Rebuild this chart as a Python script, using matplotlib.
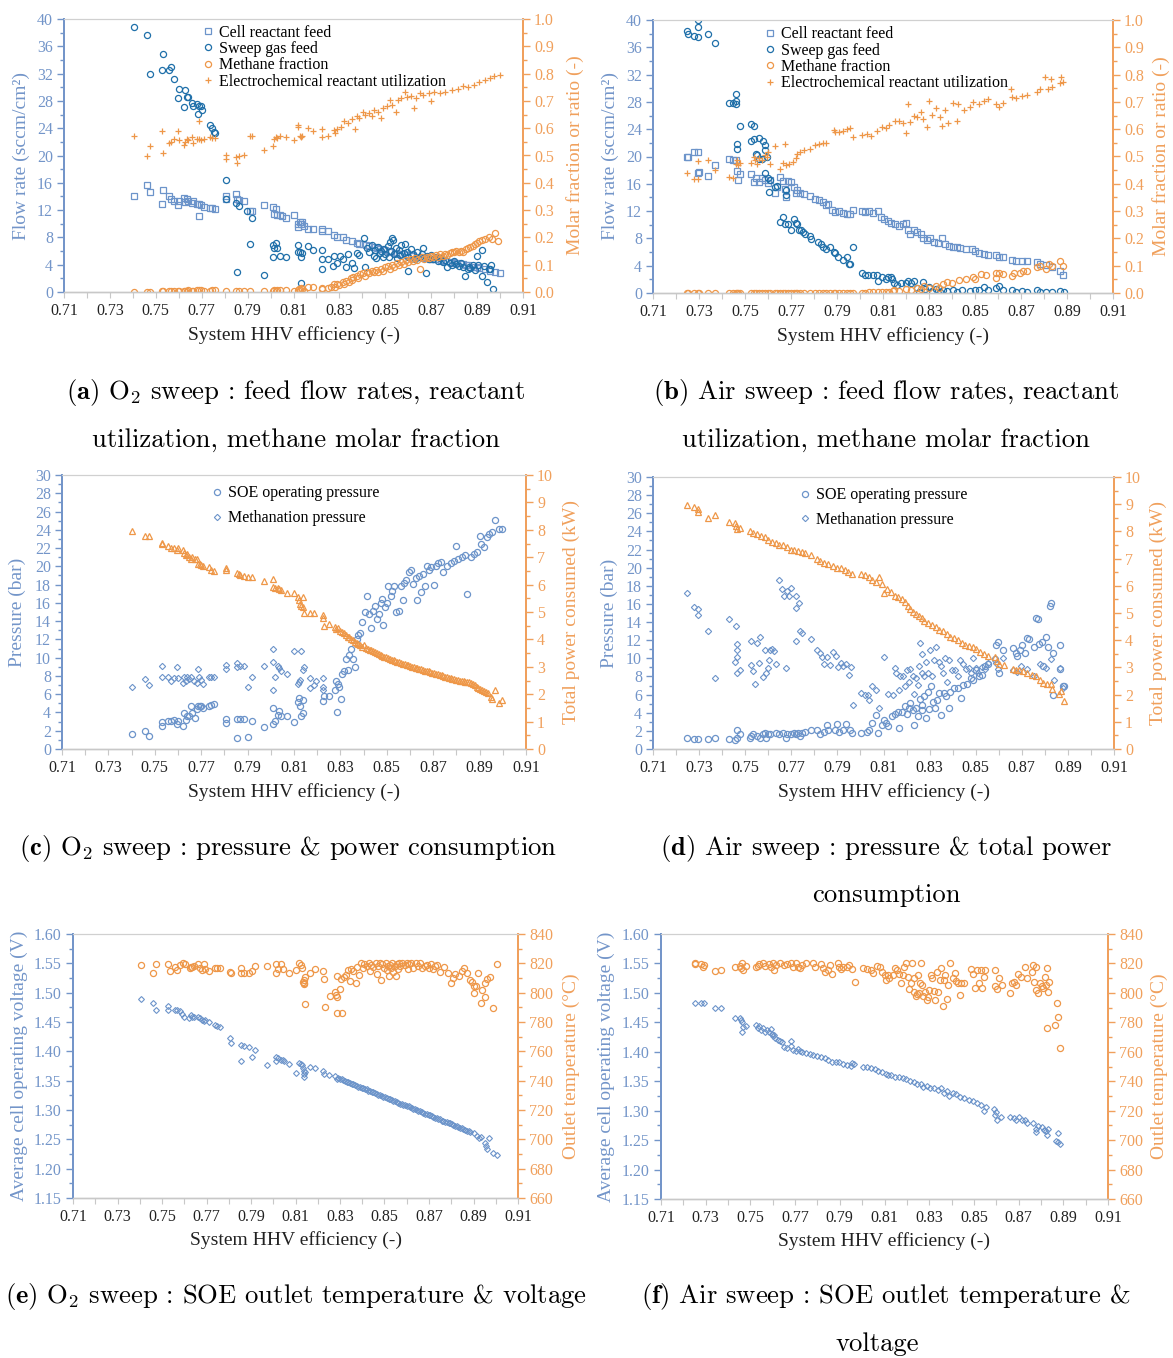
import numpy as np
import matplotlib
matplotlib.use("Agg")
import matplotlib.pyplot as plt
from matplotlib.ticker import MultipleLocator, FormatStrFormatter

plt.rcParams["font.family"] = ["Liberation Serif", "DejaVu Serif"]
plt.rcParams["mathtext.fontset"] = "cm"

BLUE_AX = "#7395C9"
BLUE_LT = "#6C94CA"
BLUE_DK = "#1F6FA9"
ORANGE = "#EE9748"
ORANGE_AX = "#F0A05C"
GRAY = "#C8C8C8"

XTICKS = [0.71, 0.73, 0.75, 0.77, 0.79, 0.81, 0.83, 0.85, 0.87, 0.89, 0.91]

# ---------------- (a) O2 sweep : flow rates / utilization / methane ----------------
a_sweep = np.array([
    (0.7406, 38.9), (0.7462, 37.7), (0.7475, 32.0), (0.7528, 32.6), (0.7533, 34.9), (0.7559, 32.5),
    (0.7568, 33.0), (0.7578, 31.2), (0.7596, 28.4), (0.7600, 29.7), (0.7623, 27.1), (0.7627, 29.6),
    (0.7635, 28.6), (0.7642, 28.6), (0.7658, 27.7), (0.7663, 27.2), (0.7679, 27.5), (0.7682, 26.1),
    (0.7687, 27.2), (0.7695, 27.3), (0.7703, 26.7), (0.7736, 24.4), (0.7744, 24.0), (0.7752, 23.4),
    (0.7756, 23.3), (0.7806, 16.4), (0.7806, 13.6), (0.7851, 13.0), (0.7864, 12.6), (0.7852, 3.0),
    (0.7896, 11.8), (0.7910, 7.0), (0.7917, 10.9), (0.7970, 2.5), (0.8010, 6.9), (0.8013, 6.4),
    (0.8010, 5.2), (0.8024, 7.2), (0.8030, 6.4), (0.8040, 5.3), (0.8067, 5.2), (0.8118, 6.9),
    (0.8121, 5.9), (0.8130, 5.9), (0.8134, 5.2), (0.8139, 5.7), (0.8131, 1.3), (0.8165, 6.7),
    (0.8186, 6.1), (0.8223, 6.1), (0.8223, 4.8), (0.8223, 3.3), (0.8250, 4.8), (0.8272, 3.8),
    (0.8275, 5.3), (0.8290, 4.3), (0.8302, 5.3), (0.8315, 4.9), (0.8330, 3.7), (0.8339, 5.6),
    (0.8355, 4.2), (0.8363, 3.5), (0.8376, 5.7), (0.8387, 5.4), (0.8408, 7.9), (0.8410, 3.7),
    (0.8420, 6.5), (0.8430, 5.8), (0.8440, 6.9), (0.8450, 5.3), (0.8455, 6.2), (0.8460, 5.0),
    (0.8470, 6.6), (0.8475, 5.7), (0.8480, 6.0), (0.8490, 5.1), (0.8495, 6.3), (0.8500, 5.5),
    (0.8510, 6.8), (0.8515, 5.2), (0.8520, 7.3), (0.8525, 6.0), (0.8530, 7.9), (0.8533, 7.6),
    (0.8540, 5.6), (0.8545, 6.4), (0.8550, 5.0), (0.8560, 6.2), (0.8565, 5.4), (0.8570, 6.9),
    (0.8580, 5.7), (0.8588, 7.1), (0.8595, 5.9), (0.8600, 5.2), (0.8601, 3.1), (0.8610, 6.3),
    (0.8620, 5.6), (0.8630, 4.9), (0.8640, 5.8), (0.8650, 5.2), (0.8660, 5.5), (0.8666, 6.4),
    (0.8676, 2.8), (0.8680, 5.3), (0.8690, 4.9), (0.8700, 5.4), (0.8710, 4.8), (0.8720, 5.2),
    (0.8730, 4.6), (0.8740, 5.0), (0.8750, 4.4), (0.8760, 4.7), (0.8770, 3.7), (0.8780, 4.3),
    (0.8790, 4.0), (0.8800, 4.5), (0.8810, 4.1), (0.8820, 3.8), (0.8830, 4.2), (0.8840, 3.6),
    (0.8848, 2.4), (0.8860, 3.3), (0.8865, 3.6), (0.8870, 3.5), (0.8880, 4.0), (0.8890, 3.2),
    (0.8900, 5.3), (0.8905, 3.9), (0.8920, 2.4), (0.8922, 6.2), (0.8930, 3.8), (0.8941, 1.4),
    (0.8950, 3.4), (0.8955, 3.3), (0.8960, 4.0), (0.8968, 0.4)])

a_cell = np.array([
    (0.7406, 14.1), (0.7462, 15.7), (0.7475, 14.7), (0.7528, 12.9), (0.7533, 15.0), (0.7559, 14.0),
    (0.7568, 13.6), (0.7580, 13.4), (0.7596, 12.8), (0.7600, 13.4), (0.7623, 13.7), (0.7627, 13.2),
    (0.7635, 13.6), (0.7642, 13.3), (0.7658, 13.0), (0.7663, 13.3), (0.7679, 12.9), (0.7687, 11.1),
    (0.7687, 12.9), (0.7695, 12.7), (0.7708, 12.5), (0.7736, 12.3), (0.7744, 12.3), (0.7756, 12.2),
    (0.7806, 14.1), (0.7806, 13.6), (0.7851, 14.3), (0.7852, 13.6), (0.7864, 13.5), (0.7885, 13.4),
    (0.7910, 11.8), (0.7917, 11.8), (0.7970, 12.7), (0.8010, 12.5), (0.8013, 11.5), (0.8024, 12.1),
    (0.8030, 11.3), (0.8040, 11.3), (0.8050, 11.1), (0.8067, 10.9), (0.8101, 11.3), (0.8118, 10.0),
    (0.8120, 9.5), (0.8130, 10.2), (0.8134, 10.0), (0.8139, 10.3), (0.8145, 9.7), (0.8165, 9.2),
    (0.8186, 9.3), (0.8223, 9.2), (0.8226, 8.9), (0.8250, 8.9), (0.8275, 8.4), (0.8290, 8.1),
    (0.8315, 8.0), (0.8330, 7.6), (0.8355, 7.5), (0.8376, 7.2), (0.8385, 7.1), (0.8403, 7.0),
    (0.8415, 6.9), (0.8427, 6.7), (0.8451, 6.6), (0.8465, 6.5), (0.8476, 6.3), (0.8500, 6.1),
    (0.8515, 6.0), (0.8524, 5.9), (0.8548, 5.7), (0.8560, 5.6), (0.8572, 5.5), (0.8596, 5.4),
    (0.8610, 5.3), (0.8620, 5.3), (0.8644, 5.1), (0.8660, 5.1), (0.8669, 5.0), (0.8693, 4.9),
    (0.8705, 4.9), (0.8717, 4.8), (0.8741, 4.7), (0.8750, 4.6), (0.8765, 4.5), (0.8789, 4.4),
    (0.8800, 4.3), (0.8813, 4.2), (0.8837, 4.1), (0.8850, 4.0), (0.8861, 3.9), (0.8886, 3.7),
    (0.8898, 3.6), (0.8910, 3.5), (0.8934, 3.3), (0.8958, 3.1), (0.8979, 3.0), (0.8998, 2.8)])

a_methane = np.array([
    (0.7406, 0.000), (0.7462, 0.000), (0.7475, 0.000), (0.7528, 0.002), (0.7533, 0.003), (0.7559, 0.002),
    (0.7568, 0.003), (0.7580, 0.003), (0.7596, 0.002), (0.7600, 0.004), (0.7623, 0.004), (0.7627, 0.005),
    (0.7635, 0.004), (0.7642, 0.006), (0.7658, 0.005), (0.7663, 0.005), (0.7679, 0.008), (0.7687, 0.006),
    (0.7695, 0.007), (0.7708, 0.005), (0.7736, 0.005), (0.7744, 0.006), (0.7756, 0.007), (0.7806, 0.002),
    (0.7851, 0.002), (0.7864, 0.002), (0.7885, 0.003), (0.7910, 0.003), (0.7970, 0.003), (0.8010, 0.004),
    (0.8013, 0.006), (0.8024, 0.005), (0.8030, 0.007), (0.8040, 0.006), (0.8067, 0.006), (0.8101, 0.004),
    (0.8118, 0.008), (0.8125, 0.012), (0.8130, 0.006), (0.8134, 0.015), (0.8139, 0.010), (0.8145, 0.004),
    (0.8165, 0.020), (0.8186, 0.020), (0.8223, 0.016), (0.8226, 0.010), (0.8250, 0.014), (0.8265, 0.020),
    (0.8275, 0.028), (0.8280, 0.018), (0.8290, 0.030), (0.8300, 0.024), (0.8315, 0.036), (0.8320, 0.030),
    (0.8330, 0.042), (0.8340, 0.038), (0.8349, 0.050), (0.8355, 0.045), (0.8360, 0.055), (0.8376, 0.060),
    (0.8380, 0.052), (0.8390, 0.065), (0.8403, 0.070), (0.8410, 0.060), (0.8420, 0.075), (0.8430, 0.068),
    (0.8440, 0.078), (0.8450, 0.072), (0.8460, 0.080), (0.8470, 0.075), (0.8480, 0.085), (0.8490, 0.078),
    (0.8500, 0.090), (0.8510, 0.095), (0.8520, 0.085), (0.8530, 0.100), (0.8540, 0.092), (0.8550, 0.105),
    (0.8560, 0.098), (0.8570, 0.110), (0.8580, 0.102), (0.8590, 0.118), (0.8600, 0.110), (0.8610, 0.122),
    (0.8620, 0.115), (0.8630, 0.125), (0.8640, 0.118), (0.8650, 0.085), (0.8660, 0.128), (0.8670, 0.122),
    (0.8680, 0.130), (0.8690, 0.125), (0.8700, 0.132), (0.8710, 0.128), (0.8720, 0.135), (0.8730, 0.130),
    (0.8740, 0.138), (0.8750, 0.132), (0.8760, 0.140), (0.8770, 0.136), (0.8780, 0.142), (0.8790, 0.148),
    (0.8800, 0.145), (0.8810, 0.150), (0.8820, 0.146), (0.8830, 0.152), (0.8840, 0.148), (0.8850, 0.156),
    (0.8860, 0.160), (0.8870, 0.165), (0.8880, 0.170), (0.8890, 0.175), (0.8900, 0.180), (0.8910, 0.185),
    (0.8920, 0.190), (0.8935, 0.195), (0.8950, 0.200), (0.8965, 0.195), (0.8979, 0.215), (0.8990, 0.185)])

a_util = np.array([
    (0.7406, 0.570), (0.7462, 0.500), (0.7475, 0.533), (0.7528, 0.590), (0.7533, 0.509), (0.7559, 0.545),
    (0.7568, 0.548), (0.7580, 0.560), (0.7596, 0.588), (0.7600, 0.557), (0.7623, 0.539), (0.7627, 0.551),
    (0.7635, 0.561), (0.7642, 0.557), (0.7658, 0.567), (0.7663, 0.545), (0.7679, 0.560), (0.7687, 0.625),
    (0.7687, 0.560), (0.7695, 0.557), (0.7708, 0.560), (0.7736, 0.567), (0.7744, 0.564), (0.7756, 0.564),
    (0.7806, 0.502), (0.7806, 0.487), (0.7851, 0.496), (0.7852, 0.472), (0.7864, 0.499), (0.7885, 0.502),
    (0.7910, 0.570), (0.7917, 0.572), (0.7970, 0.520), (0.8010, 0.535), (0.8013, 0.560), (0.8024, 0.567),
    (0.8030, 0.564), (0.8040, 0.570), (0.8067, 0.567), (0.8101, 0.555), (0.8118, 0.606), (0.8120, 0.612),
    (0.8130, 0.570), (0.8134, 0.567), (0.8139, 0.572), (0.8165, 0.600), (0.8186, 0.590), (0.8223, 0.596),
    (0.8226, 0.567), (0.8250, 0.572), (0.8275, 0.594), (0.8280, 0.584), (0.8290, 0.596), (0.8305, 0.606),
    (0.8320, 0.625), (0.8339, 0.619), (0.8355, 0.633), (0.8366, 0.596), (0.8376, 0.643), (0.8387, 0.637),
    (0.8403, 0.661), (0.8410, 0.649), (0.8427, 0.655), (0.8440, 0.643), (0.8451, 0.667), (0.8467, 0.661),
    (0.8483, 0.637), (0.8490, 0.673), (0.8507, 0.680), (0.8520, 0.704), (0.8530, 0.686), (0.8546, 0.661),
    (0.8556, 0.704), (0.8570, 0.710), (0.8588, 0.731), (0.8596, 0.716), (0.8610, 0.719), (0.8626, 0.674),
    (0.8633, 0.710), (0.8650, 0.729), (0.8666, 0.722), (0.8690, 0.729), (0.8700, 0.698), (0.8713, 0.731),
    (0.8738, 0.729), (0.8760, 0.731), (0.8790, 0.741), (0.8815, 0.743), (0.8838, 0.756), (0.8860, 0.751),
    (0.8885, 0.759), (0.8910, 0.768), (0.8933, 0.777), (0.8958, 0.784), (0.8974, 0.790), (0.8998, 0.796)])

# ---------------- (b) Air sweep : flow rates / utilization / methane ----------------
b_sweep = np.array([
    (0.7249, 38.4), (0.7254, 38.0), (0.7278, 37.6), (0.7294, 40.0), (0.7294, 39.0), (0.7294, 37.5),
    (0.7340, 38.0), (0.7370, 36.7), (0.7432, 27.9), (0.7448, 27.9), (0.7461, 29.1), (0.7461, 28.1),
    (0.7461, 27.7), (0.7464, 21.8), (0.7464, 21.1), (0.7480, 24.4), (0.7524, 24.8), (0.7537, 24.4),
    (0.7524, 22.2), (0.7537, 22.5), (0.7562, 22.7), (0.7578, 22.2), (0.7589, 21.7), (0.7589, 21.0),
    (0.7549, 20.4), (0.7553, 20.2), (0.7562, 19.6), (0.7573, 19.6), (0.7594, 20.0), (0.7589, 17.6),
    (0.7602, 16.8), (0.7610, 16.5), (0.7605, 14.8), (0.7630, 15.6), (0.7638, 15.7), (0.7678, 15.1),
    (0.7678, 14.3), (0.7651, 10.4), (0.7667, 11.2), (0.7675, 10.1), (0.7686, 10.1), (0.7702, 9.2),
    (0.7715, 10.9), (0.7720, 10.2), (0.7728, 10.1), (0.7734, 9.2), (0.7744, 9.2), (0.7750, 8.9),
    (0.7760, 8.6), (0.7783, 8.3), (0.7788, 7.9), (0.7816, 7.5), (0.7829, 7.2), (0.7837, 6.7),
    (0.7853, 6.5), (0.7869, 6.8), (0.7885, 6.0), (0.7893, 5.8), (0.7906, 5.3), (0.7926, 4.8),
    (0.7942, 5.3), (0.7950, 4.3), (0.7958, 4.2), (0.7968, 6.7), (0.8007, 2.9), (0.8023, 2.7),
    (0.8036, 2.6), (0.8055, 2.6), (0.8072, 2.7), (0.8080, 1.8), (0.8096, 2.3), (0.8112, 2.1),
    (0.8120, 2.3), (0.8133, 2.3), (0.8139, 2.0), (0.8149, 1.4), (0.8161, 1.1), (0.8177, 1.4),
    (0.8198, 1.5), (0.8209, 1.8), (0.8220, 1.5), (0.8234, 1.8), (0.8247, 0.8), (0.8258, 0.1),
    (0.8274, 1.6), (0.8282, 0.6), (0.8298, 0.9), (0.8315, 0.3), (0.8331, 0.6), (0.8347, 0.1),
    (0.8363, 0.5), (0.8379, 0.3), (0.8404, 0.5), (0.8420, 0.2), (0.8444, 0.4), (0.8477, 0.3),
    (0.8501, 0.4), (0.8517, 0.5), (0.8541, 0.9), (0.8558, 0.4), (0.8590, 0.8), (0.8606, 1.0),
    (0.8623, 0.5), (0.8663, 0.4), (0.8679, 0.1), (0.8703, 0.3), (0.8727, 0.1), (0.8768, 0.5),
    (0.8784, 0.1), (0.8808, 0.2), (0.8833, 0.1), (0.8868, 0.3), (0.8889, 0.1)])

b_cell = np.array([
    (0.7249, 20.0), (0.7254, 19.9), (0.7278, 20.7), (0.7294, 20.7), (0.7294, 17.6), (0.7298, 17.7),
    (0.7340, 17.2), (0.7370, 18.8), (0.7432, 19.6), (0.7448, 19.5), (0.7461, 19.5), (0.7464, 17.9),
    (0.7468, 16.6), (0.7480, 17.4), (0.7524, 17.5), (0.7537, 16.3), (0.7549, 16.9), (0.7562, 16.3),
    (0.7573, 16.9), (0.7589, 16.5), (0.7602, 16.1), (0.7610, 16.5), (0.7630, 14.6), (0.7638, 15.6),
    (0.7651, 17.0), (0.7667, 16.4), (0.7675, 15.2), (0.7678, 14.1), (0.7686, 16.4), (0.7702, 16.2),
    (0.7715, 15.5), (0.7720, 14.7), (0.7728, 15.1), (0.7739, 14.7), (0.7756, 14.5), (0.7783, 14.2),
    (0.7804, 13.7), (0.7820, 13.6), (0.7837, 13.3), (0.7853, 12.9), (0.7861, 13.1), (0.7877, 12.1),
    (0.7893, 11.9), (0.7910, 12.0), (0.7926, 11.7), (0.7942, 11.6), (0.7958, 11.6), (0.7968, 12.2),
    (0.8007, 12.0), (0.8023, 11.9), (0.8039, 12.0), (0.8055, 11.7), (0.8080, 12.0), (0.8091, 11.2),
    (0.8104, 10.9), (0.8120, 10.6), (0.8136, 10.3), (0.8153, 10.1), (0.8169, 9.8), (0.8185, 10.1),
    (0.8198, 10.2), (0.8209, 9.2), (0.8217, 8.6), (0.8234, 9.2), (0.8250, 8.9), (0.8266, 8.7),
    (0.8274, 8.1), (0.8290, 7.7), (0.8306, 8.0), (0.8323, 7.5), (0.8339, 7.3), (0.8355, 8.0),
    (0.8371, 7.2), (0.8387, 6.9), (0.8404, 6.8), (0.8420, 6.7), (0.8436, 6.6), (0.8460, 6.5),
    (0.8485, 6.4), (0.8501, 6.2), (0.8517, 5.9), (0.8541, 5.7), (0.8558, 5.6), (0.8590, 5.5),
    (0.8606, 5.3), (0.8623, 5.3), (0.8663, 4.9), (0.8679, 4.7), (0.8703, 4.7), (0.8727, 4.7),
    (0.8768, 4.5), (0.8784, 4.3), (0.8808, 4.1), (0.8833, 3.8), (0.8868, 3.2), (0.8881, 2.7)])

b_methane = np.array([
    (0.7249, 0.000), (0.7254, 0.000), (0.7278, 0.000), (0.7294, 0.000), (0.7298, 0.000), (0.7340, 0.000),
    (0.7370, 0.000), (0.7432, 0.000), (0.7448, 0.000), (0.7461, 0.000), (0.7464, 0.000), (0.7468, 0.000),
    (0.7480, 0.000), (0.7524, 0.000), (0.7537, 0.000), (0.7549, 0.000), (0.7562, 0.000), (0.7573, 0.000),
    (0.7589, 0.000), (0.7602, 0.000), (0.7610, 0.000), (0.7630, 0.000), (0.7638, 0.000), (0.7651, 0.000),
    (0.7667, 0.000), (0.7675, 0.000), (0.7686, 0.000), (0.7702, 0.000), (0.7715, 0.000), (0.7720, 0.000),
    (0.7728, 0.000), (0.7739, 0.000), (0.7756, 0.000), (0.7783, 0.000), (0.7804, 0.000), (0.7820, 0.000),
    (0.7837, 0.000), (0.7853, 0.000), (0.7869, 0.000), (0.7885, 0.000), (0.7893, 0.001), (0.7910, 0.001),
    (0.7926, 0.001), (0.7942, 0.001), (0.7958, 0.001), (0.7968, 0.001), (0.8007, 0.001), (0.8023, 0.001),
    (0.8039, 0.002), (0.8055, 0.002), (0.8080, 0.002), (0.8096, 0.002), (0.8112, 0.003), (0.8128, 0.004),
    (0.8145, 0.006), (0.8150, 0.010), (0.8170, 0.008), (0.8200, 0.013), (0.8220, 0.010), (0.8250, 0.020),
    (0.8265, 0.015), (0.8280, 0.024), (0.8300, 0.018), (0.8330, 0.026), (0.8345, 0.020), (0.8360, 0.032),
    (0.8380, 0.040), (0.8400, 0.035), (0.8430, 0.046), (0.8460, 0.050), (0.8490, 0.059), (0.8500, 0.052),
    (0.8525, 0.070), (0.8550, 0.065), (0.8590, 0.056), (0.8592, 0.072), (0.8606, 0.075), (0.8623, 0.070),
    (0.8660, 0.064), (0.8670, 0.075), (0.8695, 0.075), (0.8710, 0.080), (0.8727, 0.081), (0.8768, 0.095),
    (0.8784, 0.100), (0.8808, 0.087), (0.8820, 0.107), (0.8833, 0.100), (0.8868, 0.117), (0.8881, 0.100)])

b_util = np.array([
    (0.7249, 0.438), (0.7278, 0.419), (0.7294, 0.484), (0.7294, 0.419), (0.7340, 0.487), (0.7370, 0.450),
    (0.7432, 0.425), (0.7448, 0.423), (0.7461, 0.474), (0.7464, 0.489), (0.7470, 0.468), (0.7480, 0.477),
    (0.7524, 0.477), (0.7537, 0.499), (0.7545, 0.489), (0.7553, 0.472), (0.7562, 0.493), (0.7573, 0.489),
    (0.7586, 0.505), (0.7594, 0.499), (0.7602, 0.517), (0.7610, 0.472), (0.7630, 0.538), (0.7651, 0.456),
    (0.7667, 0.477), (0.7675, 0.545), (0.7678, 0.468), (0.7691, 0.474), (0.7707, 0.480), (0.7720, 0.496),
    (0.7728, 0.509), (0.7739, 0.517), (0.7756, 0.523), (0.7783, 0.526), (0.7804, 0.541), (0.7820, 0.545),
    (0.7837, 0.550), (0.7853, 0.550), (0.7885, 0.597), (0.7893, 0.590), (0.7910, 0.590), (0.7926, 0.594),
    (0.7942, 0.599), (0.7958, 0.603), (0.7968, 0.572), (0.8007, 0.578), (0.8031, 0.584), (0.8047, 0.575),
    (0.8072, 0.593), (0.8096, 0.609), (0.8112, 0.603), (0.8128, 0.615), (0.8153, 0.631), (0.8169, 0.631),
    (0.8185, 0.621), (0.8198, 0.587), (0.8209, 0.692), (0.8217, 0.627), (0.8234, 0.648), (0.8250, 0.645),
    (0.8266, 0.664), (0.8274, 0.639), (0.8290, 0.609), (0.8298, 0.704), (0.8315, 0.652), (0.8331, 0.676),
    (0.8347, 0.645), (0.8355, 0.611), (0.8371, 0.670), (0.8382, 0.623), (0.8404, 0.697), (0.8420, 0.631),
    (0.8428, 0.694), (0.8452, 0.672), (0.8477, 0.680), (0.8493, 0.700), (0.8517, 0.694), (0.8541, 0.704),
    (0.8558, 0.709), (0.8590, 0.692), (0.8606, 0.682), (0.8623, 0.697), (0.8655, 0.746), (0.8663, 0.719),
    (0.8679, 0.716), (0.8703, 0.721), (0.8727, 0.725), (0.8768, 0.737), (0.8784, 0.749), (0.8803, 0.792),
    (0.8816, 0.746), (0.8829, 0.785), (0.8835, 0.756), (0.8868, 0.770), (0.8873, 0.792), (0.8884, 0.774)])

# ---------------- (c) O2 sweep : pressures / power ----------------
c_soe = np.array([
    (0.7403, 1.6), (0.7457, 2.0), (0.7475, 1.4), (0.7529, 2.5), (0.7533, 3.0), (0.7558, 3.1),
    (0.7569, 3.1), (0.7582, 3.2), (0.7594, 2.7), (0.7601, 3.1), (0.7621, 2.5), (0.7625, 3.9),
    (0.7634, 3.2), (0.7639, 3.6), (0.7649, 3.6), (0.7658, 4.7), (0.7661, 3.9), (0.7674, 3.4),
    (0.7681, 4.4), (0.7685, 4.7), (0.7693, 4.7), (0.7701, 4.7), (0.7709, 4.5), (0.7733, 4.7),
    (0.7744, 4.8), (0.7757, 4.9), (0.7808, 3.3), (0.7808, 2.8), (0.7853, 3.3), (0.7853, 1.2),
    (0.7869, 3.3), (0.7885, 3.3), (0.7901, 1.3), (0.7920, 3.1), (0.7970, 2.4), (0.8009, 2.7),
    (0.8009, 4.5), (0.8016, 3.1), (0.8029, 3.7), (0.8037, 4.2), (0.8045, 3.6), (0.8068, 3.6),
    (0.8100, 3.0), (0.8116, 5.1), (0.8121, 5.6), (0.8124, 4.7), (0.8132, 3.6), (0.8137, 3.9),
    (0.8140, 5.4), (0.8223, 5.3), (0.8228, 5.8), (0.8252, 5.8), (0.8276, 6.5), (0.8283, 7.4),
    (0.8287, 4.1), (0.8291, 7.1), (0.8296, 6.8), (0.8302, 5.5), (0.8307, 8.2), (0.8315, 8.5),
    (0.8323, 9.8), (0.8331, 8.7), (0.8338, 10.3), (0.8346, 10.9), (0.8354, 9.9), (0.8365, 9.0),
    (0.8370, 12.0), (0.8378, 12.5), (0.8386, 12.7), (0.8394, 13.9), (0.8406, 15.0), (0.8413, 16.8),
    (0.8425, 14.8), (0.8433, 13.2), (0.8441, 15.1), (0.8449, 15.7), (0.8457, 14.2), (0.8465, 14.8),
    (0.8473, 16.0), (0.8481, 16.4), (0.8485, 13.6), (0.8492, 15.6), (0.8501, 16.0), (0.8507, 17.9),
    (0.8517, 16.8), (0.8523, 17.3), (0.8533, 17.8), (0.8539, 15.0), (0.8552, 15.1), (0.8560, 17.9),
    (0.8568, 16.3), (0.8576, 18.2), (0.8584, 18.5), (0.8596, 19.4), (0.8603, 19.6), (0.8612, 18.1),
    (0.8624, 18.7), (0.8632, 16.3), (0.8640, 18.9), (0.8648, 17.2), (0.8656, 19.2), (0.8664, 17.9),
    (0.8672, 20.0), (0.8680, 19.6), (0.8692, 19.9), (0.8703, 18.0), (0.8711, 20.0), (0.8719, 20.4),
    (0.8735, 20.5), (0.8743, 19.4), (0.8759, 20.0), (0.8775, 20.4), (0.8791, 20.6), (0.8799, 22.2),
    (0.8807, 20.8), (0.8823, 21.0), (0.8839, 21.2), (0.8847, 17.0), (0.8863, 21.0), (0.8874, 21.3),
    (0.8887, 21.6), (0.8900, 23.3), (0.8906, 22.4), (0.8919, 22.1), (0.8931, 23.2), (0.8942, 23.5),
    (0.8954, 23.8), (0.8966, 25.1), (0.8982, 24.1), (0.8998, 24.1)])

c_meth = np.array([
    (0.7403, 6.8), (0.7457, 7.7), (0.7475, 7.0), (0.7529, 9.1), (0.7533, 7.9), (0.7558, 7.9),
    (0.7569, 7.4), (0.7582, 7.8), (0.7594, 9.0), (0.7601, 7.8), (0.7621, 7.2), (0.7625, 7.9),
    (0.7634, 7.4), (0.7639, 7.9), (0.7649, 7.7), (0.7658, 7.9), (0.7670, 7.5), (0.7681, 7.2),
    (0.7685, 8.8), (0.7690, 7.9), (0.7701, 7.6), (0.7709, 7.1), (0.7733, 7.9), (0.7744, 7.9),
    (0.7757, 7.9), (0.7808, 8.8), (0.7808, 9.2), (0.7853, 9.4), (0.7853, 9.0), (0.7869, 9.1),
    (0.7885, 9.1), (0.7901, 6.8), (0.7920, 7.9), (0.7970, 9.1), (0.8009, 10.9), (0.8009, 9.5),
    (0.8009, 6.5), (0.8020, 7.9), (0.8029, 9.1), (0.8037, 8.9), (0.8045, 8.5), (0.8068, 8.2),
    (0.8100, 10.7), (0.8116, 7.1), (0.8121, 7.3), (0.8127, 7.6), (0.8132, 10.7), (0.8137, 8.7),
    (0.8143, 9.0), (0.8168, 6.7), (0.8168, 7.8), (0.8187, 7.0), (0.8195, 7.4), (0.8223, 7.8),
    (0.8223, 6.8), (0.8223, 6.5)])

c_power = np.array([
    (0.7403, 7.96), (0.7457, 7.77), (0.7475, 7.77), (0.7529, 7.52), (0.7533, 7.48), (0.7558, 7.40),
    (0.7569, 7.35), (0.7582, 7.32), (0.7594, 7.28), (0.7601, 7.32), (0.7621, 7.26), (0.7625, 7.14),
    (0.7634, 7.08), (0.7639, 7.11), (0.7649, 7.01), (0.7658, 6.95), (0.7661, 7.01), (0.7674, 6.92),
    (0.7681, 6.95), (0.7685, 6.77), (0.7693, 6.75), (0.7701, 6.71), (0.7709, 6.67), (0.7733, 6.63),
    (0.7744, 6.55), (0.7757, 6.50), (0.7808, 6.59), (0.7808, 6.53), (0.7853, 6.43), (0.7861, 6.38),
    (0.7869, 6.35), (0.7885, 6.31), (0.7901, 6.26), (0.7920, 6.29), (0.7970, 6.14), (0.8009, 6.19),
    (0.8009, 5.92), (0.8016, 5.86), (0.8029, 5.86), (0.8037, 5.83), (0.8045, 5.80), (0.8068, 5.68),
    (0.8100, 5.70), (0.8116, 5.53), (0.8121, 5.44), (0.8127, 5.29), (0.8132, 5.22), (0.8137, 5.53),
    (0.8140, 5.19), (0.8143, 4.98), (0.8168, 4.98), (0.8187, 4.98), (0.8223, 4.89), (0.8223, 4.77),
    (0.8228, 4.49), (0.8252, 4.56), (0.8276, 4.47), (0.8283, 4.37), (0.8291, 4.41), (0.8299, 4.32),
    (0.8307, 4.28), (0.8315, 4.25), (0.8323, 4.16), (0.8331, 4.10), (0.8338, 4.07), (0.8346, 4.00),
    (0.8354, 3.98), (0.8362, 3.92), (0.8370, 3.86), (0.8378, 3.83), (0.8386, 3.80), (0.8394, 3.74),
    (0.8402, 3.80), (0.8410, 3.68), (0.8418, 3.64), (0.8426, 3.62), (0.8434, 3.60), (0.8442, 3.56),
    (0.8450, 3.53), (0.8458, 3.50), (0.8466, 3.46), (0.8474, 3.43), (0.8481, 3.40), (0.8489, 3.37),
    (0.8497, 3.34), (0.8505, 3.31), (0.8513, 3.28), (0.8521, 3.25), (0.8529, 3.24), (0.8537, 3.22),
    (0.8545, 3.19), (0.8553, 3.17), (0.8561, 3.14), (0.8569, 3.11), (0.8577, 3.09), (0.8585, 3.07),
    (0.8593, 3.05), (0.8601, 3.03), (0.8609, 3.01), (0.8617, 2.99), (0.8625, 2.97), (0.8632, 2.95),
    (0.8640, 2.93), (0.8648, 2.91), (0.8656, 2.88), (0.8664, 2.86), (0.8672, 2.85), (0.8680, 2.83),
    (0.8688, 2.81), (0.8696, 2.79), (0.8704, 2.76), (0.8712, 2.74), (0.8720, 2.73), (0.8728, 2.71),
    (0.8736, 2.69), (0.8744, 2.67), (0.8752, 2.64), (0.8759, 2.62), (0.8767, 2.60), (0.8775, 2.58),
    (0.8783, 2.57), (0.8791, 2.55), (0.8799, 2.53), (0.8807, 2.52), (0.8815, 2.50), (0.8823, 2.49),
    (0.8831, 2.47), (0.8839, 2.46), (0.8847, 2.44), (0.8855, 2.43), (0.8863, 2.41), (0.8871, 2.38),
    (0.8879, 2.33), (0.8887, 2.28), (0.8895, 2.23), (0.8903, 2.18), (0.8911, 2.14), (0.8919, 2.10),
    (0.8927, 2.07), (0.8935, 2.04), (0.8947, 1.89), (0.8954, 1.82), (0.8966, 2.14), (0.8982, 1.67),
    (0.8998, 1.80)])

# ---------------- (d) Air sweep : pressures / power ----------------
d_soe = np.array([
    (0.7248, 1.2), (0.7277, 1.1), (0.7294, 1.1), (0.7339, 1.1), (0.7370, 1.2), (0.7431, 1.1),
    (0.7455, 1.0), (0.7463, 1.2), (0.7463, 2.1), (0.7479, 1.6), (0.7519, 1.2), (0.7527, 1.4),
    (0.7535, 1.6), (0.7552, 1.4), (0.7565, 1.2), (0.7576, 1.6), (0.7584, 1.8), (0.7592, 1.2),
    (0.7600, 1.6), (0.7608, 1.6), (0.7632, 1.8), (0.7648, 1.6), (0.7665, 1.8), (0.7676, 1.2),
    (0.7681, 1.6), (0.7697, 1.6), (0.7713, 1.8), (0.7721, 1.6), (0.7729, 1.8), (0.7737, 1.4),
    (0.7745, 1.8), (0.7758, 1.9), (0.7785, 2.1), (0.7813, 2.1), (0.7826, 1.7), (0.7842, 1.9),
    (0.7855, 2.6), (0.7858, 2.1), (0.7890, 2.1), (0.7898, 2.8), (0.7906, 1.9), (0.7923, 2.1),
    (0.7939, 2.8), (0.7955, 2.1), (0.7963, 1.8), (0.8003, 1.8), (0.8027, 1.9), (0.8039, 2.1),
    (0.8048, 2.9), (0.8076, 1.8), (0.8068, 3.7), (0.8092, 2.7), (0.8102, 3.2), (0.8110, 2.9),
    (0.8118, 2.5), (0.8135, 3.6), (0.8148, 3.9), (0.8161, 4.1), (0.8168, 2.3), (0.8181, 4.1),
    (0.8194, 4.7), (0.8200, 3.9), (0.8210, 4.5), (0.8216, 5.1), (0.8226, 4.3), (0.8234, 2.7),
    (0.8242, 4.5), (0.8248, 3.6), (0.8258, 5.5), (0.8265, 4.3), (0.8269, 4.9), (0.8277, 5.8),
    (0.8285, 3.4), (0.8294, 6.3), (0.8297, 4.4), (0.8306, 6.9), (0.8313, 5.2), (0.8323, 4.5),
    (0.8334, 5.4), (0.8342, 6.2), (0.8350, 3.8), (0.8361, 6.2), (0.8371, 5.9), (0.8382, 4.5),
    (0.8390, 6.3), (0.8406, 6.7), (0.8423, 6.7), (0.8435, 5.6), (0.8447, 7.1), (0.8463, 7.2),
    (0.8479, 7.8), (0.8490, 7.6), (0.8503, 8.7), (0.8516, 8.1), (0.8527, 8.2), (0.8539, 9.1),
    (0.8552, 9.4), (0.8584, 9.9), (0.8587, 11.5), (0.8597, 11.8), (0.8600, 8.4), (0.8619, 10.9),
    (0.8661, 11.1), (0.8673, 10.6), (0.8681, 10.3), (0.8694, 10.9), (0.8702, 11.5), (0.8713, 10.6),
    (0.8721, 12.2), (0.8732, 12.1), (0.8753, 11.3), (0.8761, 14.5), (0.8769, 14.3), (0.8774, 11.6),
    (0.8786, 11.8), (0.8794, 9.1), (0.8806, 12.4), (0.8813, 11.2), (0.8822, 15.8), (0.8826, 16.1),
    (0.8834, 10.6), (0.8834, 6.0), (0.8866, 11.5), (0.8866, 8.8), (0.8877, 6.9), (0.8882, 7.0)])

d_meth = np.array([
    (0.7248, 17.2), (0.7280, 15.7), (0.7294, 15.4), (0.7294, 14.8), (0.7339, 13.0), (0.7370, 7.8),
    (0.7431, 14.3), (0.7455, 9.6), (0.7458, 13.6), (0.7463, 11.6), (0.7463, 10.9), (0.7463, 10.1),
    (0.7463, 8.4), (0.7479, 8.7), (0.7523, 11.9), (0.7527, 9.3), (0.7535, 8.6), (0.7543, 7.2),
    (0.7552, 11.7), (0.7560, 9.5), (0.7565, 12.4), (0.7576, 7.9), (0.7584, 10.9), (0.7592, 8.4),
    (0.7600, 8.9), (0.7603, 9.8), (0.7608, 10.9), (0.7616, 11.0), (0.7627, 10.8), (0.7635, 9.4),
    (0.7648, 18.6), (0.7661, 17.6), (0.7668, 16.9), (0.7676, 8.9), (0.7681, 17.4), (0.7689, 16.9),
    (0.7700, 17.8), (0.7721, 16.9), (0.7721, 15.5), (0.7732, 16.1), (0.7737, 13.0), (0.7748, 12.8),
    (0.7721, 11.9), (0.7785, 12.1), (0.7813, 10.9), (0.7823, 10.6), (0.7834, 10.2), (0.7842, 9.4),
    (0.7855, 10.2), (0.7866, 9.3), (0.7882, 10.7), (0.7894, 10.3), (0.7903, 9.0), (0.7915, 9.5),
    (0.7923, 9.1), (0.7939, 9.4), (0.7952, 8.2), (0.7958, 9.0), (0.7968, 4.8), (0.8003, 6.2),
    (0.8019, 6.0), (0.8032, 6.0), (0.8039, 5.4), (0.8048, 7.0), (0.8068, 6.5), (0.8080, 4.5),
    (0.8102, 10.2), (0.8118, 6.1), (0.8142, 6.0), (0.8148, 8.9), (0.8156, 8.4), (0.8168, 6.5),
    (0.8173, 8.1), (0.8184, 8.0), (0.8194, 7.0), (0.8200, 8.7), (0.8210, 7.4), (0.8216, 8.8),
    (0.8226, 8.1), (0.8234, 6.1), (0.8242, 7.8), (0.8248, 7.1), (0.8253, 9.1), (0.8258, 11.7),
    (0.8265, 10.5), (0.8269, 8.4), (0.8277, 8.1), (0.8285, 9.6), (0.8294, 8.4), (0.8302, 10.9),
    (0.8310, 8.0), (0.8318, 9.8), (0.8329, 11.2), (0.8339, 9.6), (0.8350, 9.2), (0.8358, 8.4),
    (0.8366, 10.0), (0.8374, 7.4), (0.8382, 9.8), (0.8398, 8.7), (0.8410, 8.7), (0.8423, 8.0),
    (0.8431, 9.8), (0.8447, 9.4), (0.8458, 8.8), (0.8471, 8.9), (0.8479, 8.4), (0.8487, 10.0),
    (0.8500, 8.9), (0.8511, 8.4), (0.8527, 9.0), (0.8539, 8.8), (0.8552, 9.5), (0.8587, 9.5),
    (0.8597, 8.8), (0.8619, 10.0), (0.8661, 8.7), (0.8681, 8.5), (0.8697, 9.1), (0.8721, 8.8),
    (0.8753, 8.0), (0.8777, 9.4), (0.8806, 8.9), (0.8826, 9.9), (0.8839, 7.6), (0.8866, 8.9),
    (0.8877, 6.7)])

d_power = np.array([
    (0.7248, 8.96), (0.7277, 8.90), (0.7294, 8.84), (0.7294, 8.72), (0.7339, 8.51), (0.7370, 8.59),
    (0.7431, 8.35), (0.7455, 8.31), (0.7458, 8.19), (0.7463, 8.10), (0.7479, 8.14), (0.7519, 8.02),
    (0.7535, 7.95), (0.7552, 7.90), (0.7568, 7.82), (0.7584, 7.78), (0.7600, 7.70), (0.7616, 7.62),
    (0.7632, 7.56), (0.7648, 7.49), (0.7665, 7.49), (0.7681, 7.41), (0.7697, 7.33), (0.7713, 7.31),
    (0.7729, 7.29), (0.7745, 7.25), (0.7761, 7.21), (0.7785, 7.13), (0.7810, 7.00), (0.7826, 6.92),
    (0.7842, 6.85), (0.7858, 6.80), (0.7882, 6.72), (0.7898, 6.67), (0.7915, 6.64), (0.7931, 6.58),
    (0.7947, 6.52), (0.7963, 6.45), (0.8003, 6.43), (0.8019, 6.39), (0.8035, 6.33), (0.8052, 6.21),
    (0.8068, 6.15), (0.8080, 6.31), (0.8092, 6.06), (0.8103, 5.72), (0.8116, 5.90), (0.8132, 5.78),
    (0.8148, 5.62), (0.8165, 5.57), (0.8181, 5.50), (0.8194, 5.42), (0.8205, 5.26), (0.8216, 5.13),
    (0.8229, 5.05), (0.8242, 4.96), (0.8253, 4.89), (0.8265, 4.80), (0.8277, 4.72), (0.8294, 4.62),
    (0.8310, 4.56), (0.8326, 4.47), (0.8342, 4.38), (0.8358, 4.32), (0.8374, 4.23), (0.8390, 4.13),
    (0.8406, 4.07), (0.8423, 4.01), (0.8439, 3.91), (0.8455, 3.83), (0.8471, 3.77), (0.8487, 3.74),
    (0.8503, 3.67), (0.8519, 3.58), (0.8535, 3.50), (0.8552, 3.42), (0.8584, 3.37), (0.8592, 3.22),
    (0.8600, 3.13), (0.8624, 3.09), (0.8661, 2.93), (0.8673, 2.91), (0.8689, 2.89), (0.8706, 2.85),
    (0.8721, 2.79), (0.8745, 2.73), (0.8761, 2.67), (0.8777, 2.54), (0.8794, 2.44), (0.8810, 2.40),
    (0.8826, 2.40), (0.8830, 2.20), (0.8861, 2.03), (0.8871, 2.15), (0.8882, 1.75)])

# ---------------- (e) O2 sweep : voltage / outlet temperature ----------------
e_volt = np.array([
    (0.7404, 1.489), (0.7459, 1.483), (0.7474, 1.471), (0.7529, 1.477), (0.7529, 1.471), (0.7557, 1.471),
    (0.7567, 1.470), (0.7579, 1.468), (0.7592, 1.464), (0.7597, 1.459), (0.7620, 1.456), (0.7629, 1.462),
    (0.7637, 1.459), (0.7645, 1.458), (0.7662, 1.459), (0.7670, 1.456), (0.7679, 1.454), (0.7687, 1.452),
    (0.7695, 1.454), (0.7712, 1.450), (0.7737, 1.445), (0.7745, 1.443), (0.7762, 1.441), (0.7807, 1.422),
    (0.7812, 1.414), (0.7853, 1.411), (0.7870, 1.409), (0.7890, 1.407), (0.7920, 1.402), (0.7853, 1.383),
    (0.7903, 1.390), (0.7973, 1.377), (0.8011, 1.391), (0.8011, 1.383), (0.8023, 1.388), (0.8033, 1.386),
    (0.8045, 1.385), (0.8050, 1.383), (0.8069, 1.379), (0.8103, 1.363), (0.8116, 1.380), (0.8123, 1.379),
    (0.8128, 1.376), (0.8133, 1.372), (0.8136, 1.366), (0.8140, 1.362), (0.8140, 1.357), (0.8144, 1.364),
    (0.8166, 1.374), (0.8186, 1.372), (0.8222, 1.366), (0.8227, 1.361), (0.8252, 1.359), (0.8277, 1.358),
    (0.8285, 1.352), (0.8290, 1.355), (0.8300, 1.353), (0.8308, 1.352), (0.8315, 1.351), (0.8322, 1.349),
    (0.8330, 1.348), (0.8338, 1.347), (0.8345, 1.346), (0.8352, 1.345), (0.8360, 1.344), (0.8368, 1.342),
    (0.8375, 1.341), (0.8382, 1.340), (0.8390, 1.339), (0.8398, 1.338), (0.8405, 1.337), (0.8412, 1.336),
    (0.8420, 1.335), (0.8428, 1.333), (0.8435, 1.332), (0.8442, 1.331), (0.8450, 1.330), (0.8458, 1.329),
    (0.8465, 1.328), (0.8472, 1.326), (0.8480, 1.325), (0.8488, 1.324), (0.8495, 1.323), (0.8502, 1.322),
    (0.8510, 1.321), (0.8518, 1.319), (0.8525, 1.318), (0.8532, 1.317), (0.8540, 1.316), (0.8548, 1.315),
    (0.8555, 1.314), (0.8562, 1.312), (0.8570, 1.311), (0.8578, 1.310), (0.8585, 1.309), (0.8592, 1.308),
    (0.8600, 1.307), (0.8608, 1.306), (0.8615, 1.305), (0.8622, 1.303), (0.8630, 1.302), (0.8638, 1.301),
    (0.8645, 1.300), (0.8652, 1.299), (0.8660, 1.298), (0.8668, 1.296), (0.8675, 1.295), (0.8682, 1.294),
    (0.8690, 1.293), (0.8698, 1.292), (0.8705, 1.291), (0.8712, 1.289), (0.8720, 1.288), (0.8728, 1.287),
    (0.8735, 1.286), (0.8742, 1.285), (0.8750, 1.284), (0.8758, 1.282), (0.8765, 1.281), (0.8772, 1.280),
    (0.8780, 1.279), (0.8788, 1.278), (0.8795, 1.277), (0.8802, 1.276), (0.8810, 1.275), (0.8818, 1.273),
    (0.8825, 1.272), (0.8832, 1.271), (0.8840, 1.270), (0.8848, 1.269), (0.8855, 1.268), (0.8862, 1.266),
    (0.8870, 1.265), (0.8878, 1.264), (0.8885, 1.263), (0.8900, 1.261), (0.8917, 1.256), (0.8925, 1.252),
    (0.8934, 1.254), (0.8951, 1.243), (0.8956, 1.239), (0.8959, 1.233), (0.8971, 1.252), (0.8987, 1.226),
    (0.9004, 1.224)])

e_temp = np.array([
    (0.7404, 818.9), (0.7459, 813.7), (0.7474, 819.3), (0.7529, 819.6), (0.7534, 815.0), (0.7557, 817.8),
    (0.7567, 815.5), (0.7579, 818.9), (0.7596, 820.0), (0.7604, 819.6), (0.7624, 816.6), (0.7629, 817.3),
    (0.7637, 817.8), (0.7645, 818.2), (0.7662, 819.6), (0.7670, 816.6), (0.7679, 815.5), (0.7687, 819.6),
    (0.7695, 816.0), (0.7712, 815.0), (0.7737, 816.6), (0.7745, 816.6), (0.7762, 816.6), (0.7807, 814.4),
    (0.7812, 813.2), (0.7853, 817.1), (0.7856, 813.7), (0.7870, 813.7), (0.7890, 813.7), (0.7903, 815.0),
    (0.7920, 818.2), (0.7973, 818.2), (0.8011, 813.2), (0.8011, 819.6), (0.8023, 816.0), (0.8036, 819.6),
    (0.8045, 816.0), (0.8069, 813.2), (0.8103, 815.5), (0.8116, 820.5), (0.8123, 818.9), (0.8128, 816.6),
    (0.8133, 807.5), (0.8136, 806.4), (0.8140, 808.7), (0.8144, 810.5), (0.8140, 806.0), (0.8144, 792.3),
    (0.8166, 813.7), (0.8189, 816.0), (0.8222, 815.0), (0.8227, 809.1), (0.8232, 790.5), (0.8255, 797.8),
    (0.8277, 800.7), (0.8282, 798.5), (0.8285, 811.4), (0.8288, 796.9), (0.8288, 786.4), (0.8298, 802.3),
    (0.8305, 809.1), (0.8310, 786.4), (0.8318, 810.5), (0.8327, 812.1), (0.8335, 815.5), (0.8343, 808.2),
    (0.8348, 816.0), (0.8360, 815.0), (0.8372, 806.9), (0.8377, 817.8), (0.8385, 812.1), (0.8393, 820.0),
    (0.8402, 816.6), (0.8410, 819.5), (0.8420, 818.0), (0.8430, 820.0), (0.8435, 815.0), (0.8440, 819.0),
    (0.8450, 817.5), (0.8460, 820.0), (0.8465, 813.0), (0.8470, 818.5), (0.8480, 820.0), (0.8485, 808.7),
    (0.8490, 819.5), (0.8500, 817.0), (0.8505, 820.0), (0.8510, 815.5), (0.8515, 818.0), (0.8520, 811.4),
    (0.8525, 819.0), (0.8530, 816.5), (0.8535, 820.0), (0.8540, 814.0), (0.8545, 818.5), (0.8551, 811.4),
    (0.8555, 819.5), (0.8560, 816.0), (0.8565, 820.0), (0.8570, 818.0), (0.8580, 820.0), (0.8590, 819.0),
    (0.8600, 820.0), (0.8605, 816.0), (0.8610, 819.5), (0.8620, 820.0), (0.8630, 817.0), (0.8640, 820.0),
    (0.8650, 818.5), (0.8660, 820.0), (0.8670, 816.5), (0.8680, 818.0), (0.8690, 819.0), (0.8700, 817.0),
    (0.8710, 819.5), (0.8720, 816.0), (0.8725, 818.0), (0.8734, 818.9), (0.8750, 814.4), (0.8767, 817.8),
    (0.8784, 813.2), (0.8800, 806.9), (0.8809, 809.8), (0.8817, 812.8), (0.8834, 811.4), (0.8850, 815.0),
    (0.8859, 816.6), (0.8870, 813.7), (0.8884, 808.7), (0.8892, 807.5), (0.8900, 804.6), (0.8903, 800.0),
    (0.8913, 804.6), (0.8920, 813.7), (0.8934, 793.2), (0.8937, 801.5), (0.8950, 806.9), (0.8953, 797.3),
    (0.8959, 809.1), (0.8975, 810.5), (0.8987, 789.4), (0.9004, 819.6)])

# ---------------- (f) Air sweep : voltage / outlet temperature ----------------
f_volt = np.array([
    (0.7250, 1.482), (0.7280, 1.482), (0.7291, 1.482), (0.7341, 1.474), (0.7369, 1.474), (0.7433, 1.457),
    (0.7454, 1.457), (0.7457, 1.454), (0.7462, 1.451), (0.7462, 1.434), (0.7466, 1.442), (0.7482, 1.444),
    (0.7524, 1.446), (0.7532, 1.440), (0.7540, 1.443), (0.7549, 1.437), (0.7557, 1.440), (0.7566, 1.434),
    (0.7574, 1.437), (0.7582, 1.434), (0.7590, 1.438), (0.7595, 1.430), (0.7599, 1.426), (0.7607, 1.429),
    (0.7612, 1.423), (0.7624, 1.420), (0.7632, 1.419), (0.7640, 1.417), (0.7649, 1.408), (0.7665, 1.406),
    (0.7682, 1.419), (0.7682, 1.409), (0.7690, 1.403), (0.7702, 1.402), (0.7715, 1.404), (0.7723, 1.402),
    (0.7732, 1.400), (0.7748, 1.398), (0.7765, 1.396), (0.7782, 1.395), (0.7798, 1.393), (0.7815, 1.391),
    (0.7832, 1.389), (0.7848, 1.386), (0.7865, 1.383), (0.7881, 1.383), (0.7898, 1.382), (0.7915, 1.380),
    (0.7931, 1.378), (0.7948, 1.376), (0.7956, 1.381), (0.7965, 1.380), (0.8006, 1.375), (0.8023, 1.374),
    (0.8039, 1.372), (0.8056, 1.370), (0.8072, 1.368), (0.8089, 1.366), (0.8106, 1.362), (0.8114, 1.361),
    (0.8131, 1.361), (0.8147, 1.358), (0.8164, 1.357), (0.8181, 1.355), (0.8197, 1.354), (0.8214, 1.350),
    (0.8230, 1.348), (0.8247, 1.346), (0.8264, 1.346), (0.8272, 1.341), (0.8289, 1.342), (0.8305, 1.338),
    (0.8322, 1.338), (0.8339, 1.335), (0.8355, 1.338), (0.8364, 1.330), (0.8380, 1.333), (0.8388, 1.325),
    (0.8405, 1.330), (0.8422, 1.329), (0.8438, 1.324), (0.8455, 1.321), (0.8480, 1.318), (0.8497, 1.316),
    (0.8513, 1.313), (0.8530, 1.310), (0.8546, 1.299), (0.8555, 1.306), (0.8588, 1.302), (0.8593, 1.293),
    (0.8600, 1.297), (0.8604, 1.285), (0.8621, 1.290), (0.8663, 1.290), (0.8679, 1.287), (0.8688, 1.285),
    (0.8704, 1.289), (0.8713, 1.285), (0.8729, 1.285), (0.8738, 1.279), (0.8763, 1.279), (0.8776, 1.269),
    (0.8779, 1.263), (0.8788, 1.274), (0.8805, 1.272), (0.8813, 1.268), (0.8821, 1.265), (0.8826, 1.259),
    (0.8833, 1.269), (0.8876, 1.262), (0.8866, 1.248), (0.8876, 1.246), (0.8887, 1.244)])

f_temp = np.array([
    (0.7250, 820.1), (0.7253, 819.6), (0.7280, 819.6), (0.7288, 817.8), (0.7291, 819.0), (0.7341, 815.1),
    (0.7369, 815.6), (0.7433, 817.8), (0.7454, 818.3), (0.7457, 816.7), (0.7462, 820.1), (0.7466, 815.6),
    (0.7482, 818.3), (0.7524, 817.4), (0.7532, 818.3), (0.7540, 819.6), (0.7557, 820.1), (0.7566, 818.3),
    (0.7582, 819.6), (0.7590, 817.8), (0.7599, 820.1), (0.7607, 815.6), (0.7615, 819.0), (0.7632, 820.1),
    (0.7649, 819.0), (0.7665, 819.6), (0.7682, 820.1), (0.7690, 817.4), (0.7702, 820.1), (0.7715, 817.8),
    (0.7723, 816.7), (0.7732, 819.0), (0.7748, 820.1), (0.7782, 820.1), (0.7790, 817.8), (0.7815, 819.6),
    (0.7823, 816.7), (0.7832, 814.4), (0.7848, 815.6), (0.7857, 819.0), (0.7865, 812.9), (0.7890, 820.5),
    (0.7898, 817.8), (0.7907, 816.0), (0.7915, 817.4), (0.7931, 817.4), (0.7940, 819.0), (0.7956, 816.0),
    (0.7968, 807.6), (0.8006, 816.7), (0.8023, 816.0), (0.8039, 815.6), (0.8047, 813.8), (0.8067, 818.3),
    (0.8081, 817.4), (0.8089, 814.4), (0.8101, 812.2), (0.8106, 808.8), (0.8114, 812.2), (0.8122, 809.9),
    (0.8139, 812.2), (0.8147, 816.7), (0.8156, 815.6), (0.8164, 812.9), (0.8172, 807.0), (0.8181, 812.2),
    (0.8189, 817.8), (0.8197, 820.1), (0.8206, 810.6), (0.8211, 802.4), (0.8217, 807.0), (0.8222, 820.1),
    (0.8230, 810.0), (0.8234, 800.9), (0.8239, 797.9), (0.8244, 799.3), (0.8250, 812.2), (0.8255, 800.2),
    (0.8260, 807.0), (0.8264, 820.1), (0.8267, 805.4), (0.8272, 797.9), (0.8280, 800.9), (0.8289, 795.2),
    (0.8294, 797.0), (0.8300, 802.0), (0.8310, 812.2), (0.8313, 810.0), (0.8322, 801.5), (0.8327, 795.2),
    (0.8334, 814.4), (0.8339, 800.9), (0.8347, 808.8), (0.8355, 816.7), (0.8360, 791.1), (0.8367, 808.8),
    (0.8372, 812.2), (0.8380, 795.7), (0.8384, 805.4), (0.8394, 820.1), (0.8405, 810.0), (0.8414, 813.3),
    (0.8422, 808.3), (0.8431, 806.5), (0.8438, 798.6), (0.8443, 807.0), (0.8455, 806.5), (0.8488, 816.0),
    (0.8497, 812.9), (0.8505, 803.1), (0.8513, 815.6), (0.8522, 807.0), (0.8530, 815.6), (0.8538, 803.1),
    (0.8546, 810.6), (0.8550, 815.6), (0.8593, 815.6), (0.8596, 804.7), (0.8604, 802.4), (0.8613, 809.9),
    (0.8626, 805.4), (0.8663, 799.7), (0.8671, 806.5), (0.8679, 807.6), (0.8688, 805.4), (0.8696, 812.9),
    (0.8709, 810.6), (0.8729, 817.4), (0.8738, 810.0), (0.8759, 814.4), (0.8766, 819.0), (0.8771, 807.6),
    (0.8776, 802.0), (0.8779, 817.4), (0.8788, 800.2), (0.8796, 807.0), (0.8805, 804.7), (0.8810, 803.1),
    (0.8816, 811.0), (0.8821, 805.4), (0.8826, 816.7), (0.8830, 800.9), (0.8838, 807.6), (0.8826, 776.0),
    (0.8863, 778.2), (0.8871, 793.0), (0.8876, 783.4), (0.8883, 762.4)])


def pts(ax, data, marker, color, ms, label=None, mew=0.9):
    h, = ax.plot(data[:, 0], data[:, 1], ls="none", marker=marker, ms=ms, mfc="none",
                 mec=color, mew=mew, label=label)
    return h


def frame(ax, ax2, ylim, ymaj, ymin, yfmt, y2lim, y2maj, y2min, y2fmt,
          ylabel, y2label, lab1_x, lab2_x):
    ax.set_xlim(0.71, 0.91)
    ax.set_xticks(XTICKS)
    ax.xaxis.set_minor_locator(MultipleLocator(0.01))
    ax.xaxis.set_major_formatter(FormatStrFormatter("%.2f"))
    ax.set_ylim(*ylim)
    ax.yaxis.set_major_locator(MultipleLocator(ymaj))
    ax.yaxis.set_minor_locator(MultipleLocator(ymin))
    ax.yaxis.set_major_formatter(FormatStrFormatter(yfmt))
    ax2.set_ylim(*y2lim)
    ax2.yaxis.set_major_locator(MultipleLocator(y2maj))
    ax2.yaxis.set_minor_locator(MultipleLocator(y2min))
    ax2.yaxis.set_major_formatter(FormatStrFormatter(y2fmt))
    for a in (ax, ax2):
        a.spines["top"].set_color("#D0D0D0")
        a.spines["bottom"].set_color(GRAY)
        a.spines["left"].set_color(BLUE_AX)
        a.spines["right"].set_color(ORANGE_AX)
        a.spines["left"].set_linewidth(1.3)
        a.spines["right"].set_linewidth(1.3)
        a.spines["top"].set_linewidth(0.8)
        a.spines["bottom"].set_linewidth(1.0)
    ax.tick_params(axis="x", which="both", direction="out", length=4, width=0.8,
                   color=GRAY, labelsize=11.5, pad=4, labelcolor="#222222")
    ax.tick_params(axis="y", which="major", direction="out", length=5, width=1.0,
                   color=BLUE_AX, labelcolor=BLUE_AX, labelsize=11.5, pad=3)
    ax.tick_params(axis="y", which="minor", direction="out", length=3, width=1.0, color=BLUE_AX)
    ax2.tick_params(axis="y", which="major", direction="out", length=5, width=1.0,
                    color=ORANGE_AX, labelcolor=ORANGE_AX, labelsize=11.5, pad=3)
    ax2.tick_params(axis="y", which="minor", direction="out", length=3, width=1.0, color=ORANGE_AX)
    ax.set_xlabel("System HHV efficiency (-)", fontsize=14, color="#222222")
    ax.xaxis.set_label_coords(0.5, -0.125)
    ax.set_ylabel(ylabel, fontsize=14, color=BLUE_AX)
    ax.yaxis.set_label_coords(lab1_x, 0.5)
    ax2.set_ylabel(y2label, fontsize=14, color=ORANGE_AX)
    ax2.yaxis.set_label_coords(lab2_x, 0.5)


def caption(fig, x, y, s):
    fig.text(x / 1173, 1 - y / 1358, s, ha="center", va="center", fontsize=19.2,
             family=["cmr10", "DejaVu Serif"])


def legend(ax, handles, anchor, spacing):
    ax.legend(handles=handles, loc="upper left", bbox_to_anchor=anchor,
              frameon=False, fontsize=11.5, handlelength=0.6, handletextpad=0.4,
              labelspacing=spacing, borderpad=0.1, borderaxespad=0.0)


fig = plt.figure(figsize=(11.73, 13.58), dpi=100)


def axes_px(l, t, r, b):
    return fig.add_axes([l / 1173, 1 - b / 1358, (r - l) / 1173, (b - t) / 1358])


# (a)
ax = axes_px(64, 19, 523, 292)
ax2 = ax.twinx()
h1 = pts(ax, a_cell, "s", BLUE_LT, 4.4, "Cell reactant feed")
h2 = pts(ax, a_sweep, "o", BLUE_DK, 4.4, "Sweep gas feed")
h3 = pts(ax2, a_methane, "o", ORANGE, 4.4, "Methane fraction")
h4 = pts(ax2, a_util, "+", ORANGE, 4.6, "Electrochemical reactant utilization", mew=0.9)
frame(ax, ax2, (0, 40), 4, 2, "%d", (0, 1.0), 0.1, 0.05, "%.1f",
      "Flow rate (sccm/cm²)", "Molar fraction or ratio (-)", -0.075, 1.093)
legend(ax, [h1, h2, h3, h4], (0.30, 0.985), 0.02)

# (b)
ax = axes_px(653, 20, 1113, 293)
ax2 = ax.twinx()
h1 = pts(ax, b_cell, "s", BLUE_LT, 4.4, "Cell reactant feed")
h2 = pts(ax, b_sweep, "o", BLUE_DK, 4.4, "Sweep gas feed")
h3 = pts(ax2, b_methane, "o", ORANGE, 4.4, "Methane fraction")
h4 = pts(ax2, b_util, "+", ORANGE, 4.6, "Electrochemical reactant utilization", mew=0.9)
frame(ax, ax2, (0, 40), 4, 2, "%d", (0, 1.0), 0.1, 0.05, "%.1f",
      "Flow rate (sccm/cm²)", "Molar fraction or ratio (-)", -0.073, 1.086)
legend(ax, [h1, h2, h3, h4], (0.24, 0.983), 0.02)

# (c)
ax = axes_px(62, 475, 526, 749)
ax2 = ax.twinx()
h1 = pts(ax, c_soe, "o", BLUE_LT, 4.4, "SOE operating pressure")
h2 = pts(ax, c_meth, "D", BLUE_LT, 3.2, "Methanation pressure", mew=0.8)
pts(ax2, c_power, "^", ORANGE, 4.4)
frame(ax, ax2, (0, 30), 2, 1, "%d", (0, 10), 1, 0.5, "%d",
      "Pressure (bar)", "Total power consumed (kW)", -0.077, 1.079)
legend(ax, [h1, h2], (0.32, 0.968), 0.55)

# (d)
ax = axes_px(653, 477, 1114, 749)
ax2 = ax.twinx()
h1 = pts(ax, d_soe, "o", BLUE_LT, 4.4, "SOE operating pressure")
h2 = pts(ax, d_meth, "D", BLUE_LT, 3.2, "Methanation pressure", mew=0.8)
pts(ax2, d_power, "^", ORANGE, 4.4)
frame(ax, ax2, (0, 30), 2, 1, "%d", (0, 10), 1, 0.5, "%d",
      "Pressure (bar)", "Total power consumed (kW)", -0.076, 1.077)
legend(ax, [h1, h2], (0.315, 0.968), 0.55)

# (e)
ax = axes_px(73, 934, 518, 1198)
ax2 = ax.twinx()
pts(ax, e_volt, "D", BLUE_LT, 3.0, mew=0.8)
pts(ax2, e_temp, "o", ORANGE, 4.4)
frame(ax, ax2, (1.15, 1.60), 0.05, 0.025, "%.2f", (660, 840), 20, 10, "%d",
      "Average cell operating voltage (V)", "Outlet temperature (°C)", -0.101, 1.100)

# (f)
ax = axes_px(661, 934, 1108, 1199)
ax2 = ax.twinx()
pts(ax, f_volt, "D", BLUE_LT, 3.0, mew=0.8)
pts(ax2, f_temp, "o", ORANGE, 4.4)
frame(ax, ax2, (1.15, 1.60), 0.05, 0.025, "%.2f", (660, 840), 20, 10, "%d",
      "Average cell operating voltage (V)", "Outlet temperature (°C)", -0.103, 1.096)

# sub-figure captions (ampersand kept outside math mode)
caption(fig, 296, 392, r"$\mathbf{(a)}$ O$_2$ sweep : feed flow rates, reactant")
caption(fig, 296, 440, "utilization, methane molar fraction")
caption(fig, 886, 392, r"$\mathbf{(b)}$ Air sweep : feed flow rates, reactant")
caption(fig, 886, 440, "utilization, methane molar fraction")
caption(fig, 288, 848, r"$\mathbf{(c)}$ O$_2$ sweep : pressure & power consumption")
caption(fig, 886, 848, r"$\mathbf{(d)}$ Air sweep : pressure & total power")
caption(fig, 886, 895, "consumption")
caption(fig, 296, 1297, r"$\mathbf{(e)}$ O$_2$ sweep : SOE outlet temperature & voltage")
caption(fig, 886, 1297, r"$\mathbf{(f)}$ Air sweep : SOE outlet temperature &")
caption(fig, 877, 1344, "voltage")

fig.savefig("out.png", dpi=100)
